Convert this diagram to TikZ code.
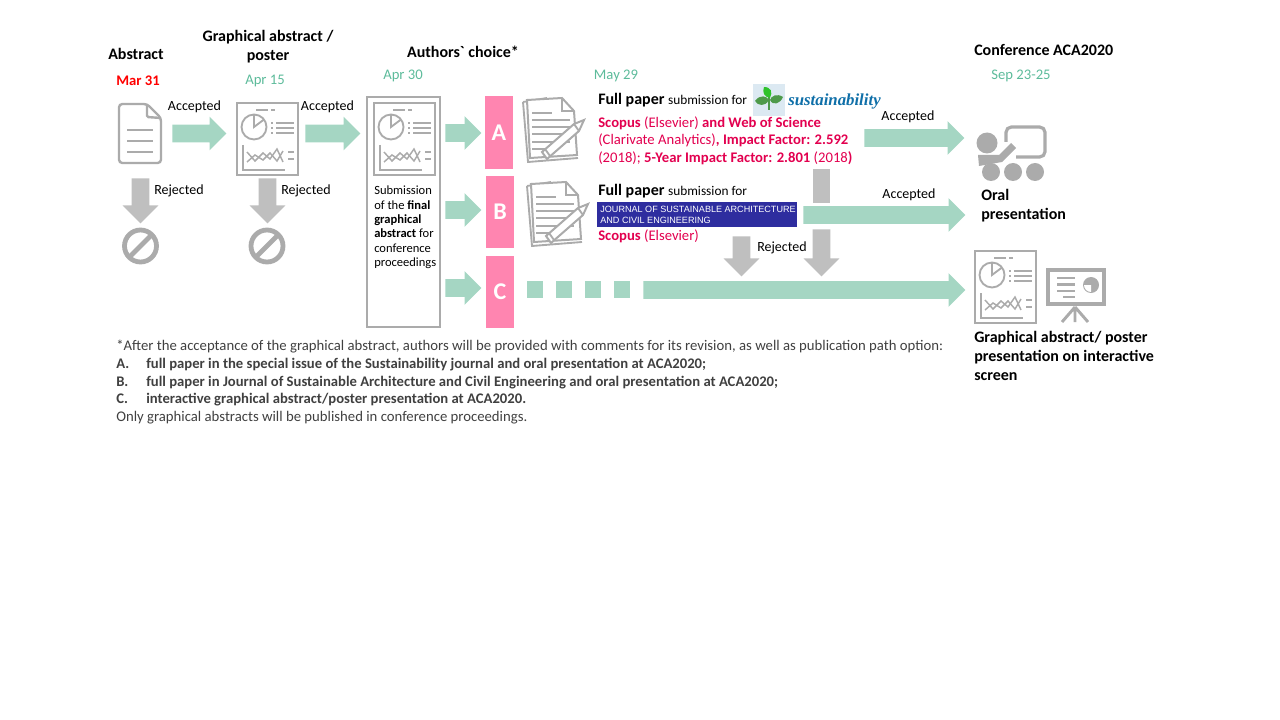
\documentclass[tikz,border=0pt]{standalone}
\usepackage{fontspec}
\setmainfont{Carlito}
\newfontfamily\tickfont{Carlito}
\newfontfamily\logofont{Liberation Serif}
\newfontfamily\bannerfont{Liberation Sans}
\usetikzlibrary{shapes,arrows,positioning,calc}
\definecolor{arrowgreen}{HTML}{A5D6C3}
\definecolor{arrowgray}{HTML}{BFBFBF}
\definecolor{icongray}{HTML}{ABABAB}
\definecolor{letterpink}{HTML}{FF85B0}
\definecolor{dategreen}{HTML}{5DBB9B}
\definecolor{journalred}{HTML}{E2004F}
\definecolor{bannerblue}{HTML}{2E2D9F}
\definecolor{logoblue}{HTML}{0F6FA8}
\definecolor{logosky}{HTML}{DCE9F2}
\definecolor{leafgreen}{HTML}{4E9A4A}
\definecolor{notegray}{HTML}{404040}
\tikzset{
  grnarrow/.style={single arrow, draw=none, fill=arrowgreen, inner sep=8.5*0.75pt,
    minimum height=#1*0.75pt,
    single arrow head extend=8*0.75pt, single arrow head indent=0pt, anchor=tail},
  gryarrow/.style={single arrow, draw=none, fill=arrowgray, inner sep=8.5*0.75pt,
    minimum height=#1*0.75pt,
    single arrow head extend=9*0.75pt, single arrow head indent=0pt, anchor=tail,
    shape border rotate=270},
  letterbox/.style={draw=none, fill=letterpink, text=white, inner sep=0pt,
    minimum width=28*0.75pt, minimum height=72*0.75pt,
    font=\fontsize{18}{20}\selectfont\bfseries},
  heading/.style={inner sep=0pt, align=center, font=\fontsize{12}{14.3}\selectfont\bfseries},
  datelabel/.style={inner sep=0pt, text=dategreen, font=\fontsize{11}{12}\selectfont},
  decision/.style={inner sep=0pt, font=\fontsize{10.5}{12}\selectfont},
  journaltxt/.style={inner sep=0pt, anchor=west, align=left, text=journalred,
    font=\fontsize{11}{13.2}\selectfont},
  notetxt/.style={inner sep=0pt, anchor=base west, text=notegray, font=\fontsize{11.05}{12}\selectfont},
  poster/.pic={
    \draw[icongray, line width=1.7pt] (0,0) rectangle (61,72);
    \draw[icongray, line width=1.1pt] (19,7) -- (31,7) (34,7) -- (38,7);
    \draw[icongray, line width=1.4pt] (17,24) circle (12.5);
    \draw[icongray, line width=1.4pt] (17,11.5) -- (17,24) -- (27,16.5);
    \foreach \y in {20,25,30} {
      \draw[icongray, line width=1.1pt] (34,\y) -- (36,\y) (39,\y) -- (57,\y);
    }
    \draw[icongray, line width=1.4pt] (6,42) -- (6,67) -- (48,67);
    \draw[icongray, line width=1.1pt] (10,49) -- (18,58) -- (26,50) -- (33,56) -- (40,46) -- (46,59);
    \draw[icongray, line width=1.1pt] (10,59) -- (18,52) -- (26,57) -- (33,50) -- (40,58) -- (46,48);
    \draw[icongray, line width=1.2pt] (51,49) -- (57,49) (51,56) -- (57,56);
  },
  paperdoc/.pic={
    \draw[icongray, line width=1.8pt, rounded corners=2.5] (29,1) -- (1,1) -- (1,60) -- (43,60) -- (43,15) -- cycle;
    \draw[icongray, line width=1.8pt, rounded corners=1] (29,1) -- (29,14) -- (43,15);
    \foreach \y in {27,38,49} {
      \draw[icongray, line width=1.8pt] (9,\y) -- (35,\y);
    }
  },
  noentry/.pic={
    \draw[icongray, line width=3.6pt] (0,0) circle (16);
    \draw[icongray, line width=3.6pt] (-11,11) -- (11,-11);
  },
  editpaper/.pic={
    \draw[icongray, line width=1.4pt] (8,12) -- (32,8) (8,12) -- (13,72) -- (63,68);
    \draw[icongray, fill=white, line width=1.5pt] (12,10) -- (47,8) -- (59,21) -- (62,65) -- (15,68) -- cycle;
    \draw[icongray, line width=1.4pt] (47,8) -- (47,21) -- (59,21);
    \draw[icongray, line width=1.4pt] (17,23) -- (37,23);
    \foreach \y in {30,37,44,52} {
      \draw[icongray, line width=1.4pt] (17,\y) -- (55,\y);
    }
    \draw[icongray, line width=1.4pt] (17,59) -- (33,59);
    \draw[icongray, fill=white, line width=1.5pt] (69,30) -- (59,34) -- (27,62) -- (32,69) -- (64,41) -- cycle;
    \draw[icongray, line width=1.4pt] (59,34) -- (64,41) (30,59) -- (35,66);
  },
  oralicon/.pic={
    \draw[icongray, line width=2.4pt, rounded corners=4] (36,22) -- (36,7) -- (75,7) -- (75,37) -- (46,37);
    \fill[icongray] (17,23) circle (10.5);
    \fill[icongray] (8,35) -- (29,35) -- (41,23) -- (46,28) -- (32,42) -- (9,46) -- cycle;
    \foreach \x in {21,43,65} {
      \fill[icongray] (\x,52) circle (9);
    }
  },
  screenicon/.pic={
    \draw[icongray, line width=3.2pt] (78,25) rectangle (134,59);
    \draw[icongray, line width=1.7pt] (87,33) -- (105,33) (87,39.5) -- (105,39.5) (87,46) -- (105,46) (93,52) -- (105,52);
    \fill[icongray] (121,40) circle (8);
    \fill[white] (121,40) -- (121,47) arc (90:180:7) -- cycle;
    \draw[icongray, line width=2.2pt] (105,62) -- (92,77) (105,62) -- (105,77) (105,62) -- (118,77);
  },
}
\begin{document}
\begin{tikzpicture}[x=0.75pt,y=-0.75pt]
  \useasboundingbox (0,0) rectangle (1280,720);
  % Headings
  \node[heading] (headAbstract) at (136,54) {Abstract};
  \node[heading] (headPoster) at (268,46.5) {Graphical abstract /\\poster};
  \node[heading] (headChoice) at (463,52) {\tickfont Authors` choice*};
  \node[heading, anchor=west] (headConf) at (974,50) {Conference ACA2020};
  % Dates
  \node[datelabel, text=red, font=\fontsize{11}{12}\selectfont\bfseries] (dateMar) at (138,81) {Mar 31};
  \node[datelabel] (dateApr) at (265,81) {Apr 15};
  \node[datelabel] (dateAprB) at (403,76) {Apr 30};
  \node[datelabel] (dateMay) at (616,76) {May 29};
  \node[datelabel] (dateSep) at (1021,76) {Sep 23-25};
  % Icons, first two stages
  \pic at (118,103) {paperdoc};
  \pic at (237,103) {poster};
  \pic at (140.5,246) {noentry};
  \pic at (267,246) {noentry};
  % Arrows, first two stages
  \node[grnarrow=54] (arrAbstract) at (172,133.5) {};
  \node[grnarrow=55] (arrPoster) at (305,133.5) {};
  \node[gryarrow=45] (rejAbstract) at (140.5,178) {};
  \node[gryarrow=45] (rejPoster) at (267.5,178) {};
  \node[decision] (accAbstract) at (194.5,107) {Accepted};
  \node[decision] (accPoster) at (327.5,107) {Accepted};
  \node[decision] (txtRejA) at (179,191) {Rejected};
  \node[decision] (txtRejB) at (306,191) {Rejected};
  % Submission box
  \draw[icongray, line width=1.5pt] (367,97) rectangle (440,327);
  \pic at (374,103) {poster};
  \node[inner sep=0pt, anchor=north west, align=left, font=\fontsize{9.4}{10.7}\selectfont] (txtFinal) at (374,186)
    {Submission\\of the \textbf{final}\\\textbf{graphical}\\\textbf{abstract} for\\conference\\proceedings};
  % Path letters
  \foreach \n/\y in {A/133,B/210,C/288} {
    \node[grnarrow=36] (arr\n) at (445,\y) {};
  }
  \node[letterbox, minimum height=73*0.75pt] (pathA) at (499,132.5) {A};
  \node[letterbox] (pathB) at (500,212) {B};
  \node[letterbox] (pathC) at (500,292) {C};
  % Full paper A
  \pic at (515,90) {editpaper};
  \node[inner sep=0pt, anchor=west, font=\fontsize{12}{14}\selectfont] (fullA) at (598,100)
    {\textbf{Full paper} {\fontsize{10}{12}\selectfont submission for}};
  \fill[logosky] (753,84) rectangle (785,116);
  \fill[leafgreen] (768,96) -- (770,96) -- (770,110) -- (768,110) -- cycle;
  \fill[leafgreen] (755,101) .. controls (760,94) and (767,96) .. (769,100) .. controls (765,107) and (758,106) .. (755,101) -- cycle;
  \fill[leafgreen] (783,97) .. controls (777,93) and (771,96) .. (770,100) .. controls (773,106) and (780,104) .. (783,97) -- cycle;
  \fill[leafgreen!60!green] (764,87) .. controls (771,87) and (773,92) .. (770,98) .. controls (764,97) and (762,92) .. (764,87) -- cycle;
  \node[inner sep=0pt, anchor=west, text=logoblue, font=\logofont\fontsize{12.6}{14}\selectfont\bfseries\itshape] (logoSust) at (788,101) {sustainability};
  \node[journaltxt] (indexA) at (598,140.5)
    {\textbf{Scopus} (Elsevier) \textbf{and Web of Science}\\(Clarivate Analytics)\textbf{, Impact Factor: 2.592}\\(2018); \textbf{5-Year Impact Factor: 2.801} (2018\textbf{)}};
  % Full paper B
  \pic at (519,174) {editpaper};
  \node[inner sep=0pt, anchor=west, font=\fontsize{12}{14}\selectfont] (fullB) at (598,191)
    {\textbf{Full paper} {\fontsize{10}{12}\selectfont submission for}};
  \node[fill=bannerblue, text=white, inner sep=0pt, anchor=north west, align=left,
    minimum width=200*0.75pt, minimum height=25*0.75pt,
    font=\bannerfont\fontsize{6.8}{8.2}\selectfont] (bannerB) at (597,202)
    {\,JOURNAL OF SUSTAINABLE ARCHITECTURE\\\,AND CIVIL ENGINEERING};
  \node[journaltxt] (indexB) at (598,236.5) {\textbf{Scopus} (Elsevier)};
  % Path C dashes
  \foreach \x in {527,556,585,614} {
    \fill[arrowgreen] (\x,280.5) rectangle (\x+16,298);
  }
  % Long arrows
  \node[grnarrow=100] (arrOutA) at (864,138) {};
  \node[grnarrow=162] (arrOutB) at (803,215) {};
  \node[grnarrow=322] (arrOutC) at (643,290) {};
  \node[decision] (accOutA) at (908,117) {Accepted};
  \node[decision] (accOutB) at (909,195) {Accepted};
  % Rejected paths
  \fill[arrowgray] (813,169) rectangle (830,203);
  \node[gryarrow=47] (rejOutA) at (821.5,229) {};
  \node[gryarrow=40] (rejOutB) at (741.5,236) {};
  \node[decision] (txtRejC) at (782,248) {Rejected};
  % Conference outputs
  \pic at (970,120) {oralicon};
  \node[heading, anchor=north west, align=left] (txtOral) at (981,189) {Oral\\presentation};
  \pic at (975,251) {poster};
  \pic at (970,245) {screenicon};
  \node[heading, anchor=north west, align=left] (txtScreen) at (974,331)
    {Graphical abstract/ poster\\presentation on interactive\\screen};
  % Footnote
  \node[notetxt] (noteHead) at (116,350) {*After the acceptance of the graphical abstract, authors will be provided with comments for its revision, as well as publication path option:};
  \foreach \n/\y/\t in {A/368/{full paper in the special issue of the Sustainability journal and oral presentation at ACA2020;},
    B/386/{full paper in Journal of Sustainable Architecture and Civil Engineering and oral presentation at ACA2020;},
    C/403/{interactive graphical abstract/poster presentation at ACA2020.}} {
    \node[notetxt, font=\fontsize{11}{12}\selectfont\bfseries] (noteKey\n) at (116,\y) {\n.};
    \node[notetxt, font=\fontsize{11}{12}\selectfont\bfseries] (noteTxt\n) at (146,\y) {\t};
  }
  \node[notetxt] (noteEnd) at (116,421) {Only graphical abstracts will be published in conference proceedings.};
\end{tikzpicture}
\end{document}
